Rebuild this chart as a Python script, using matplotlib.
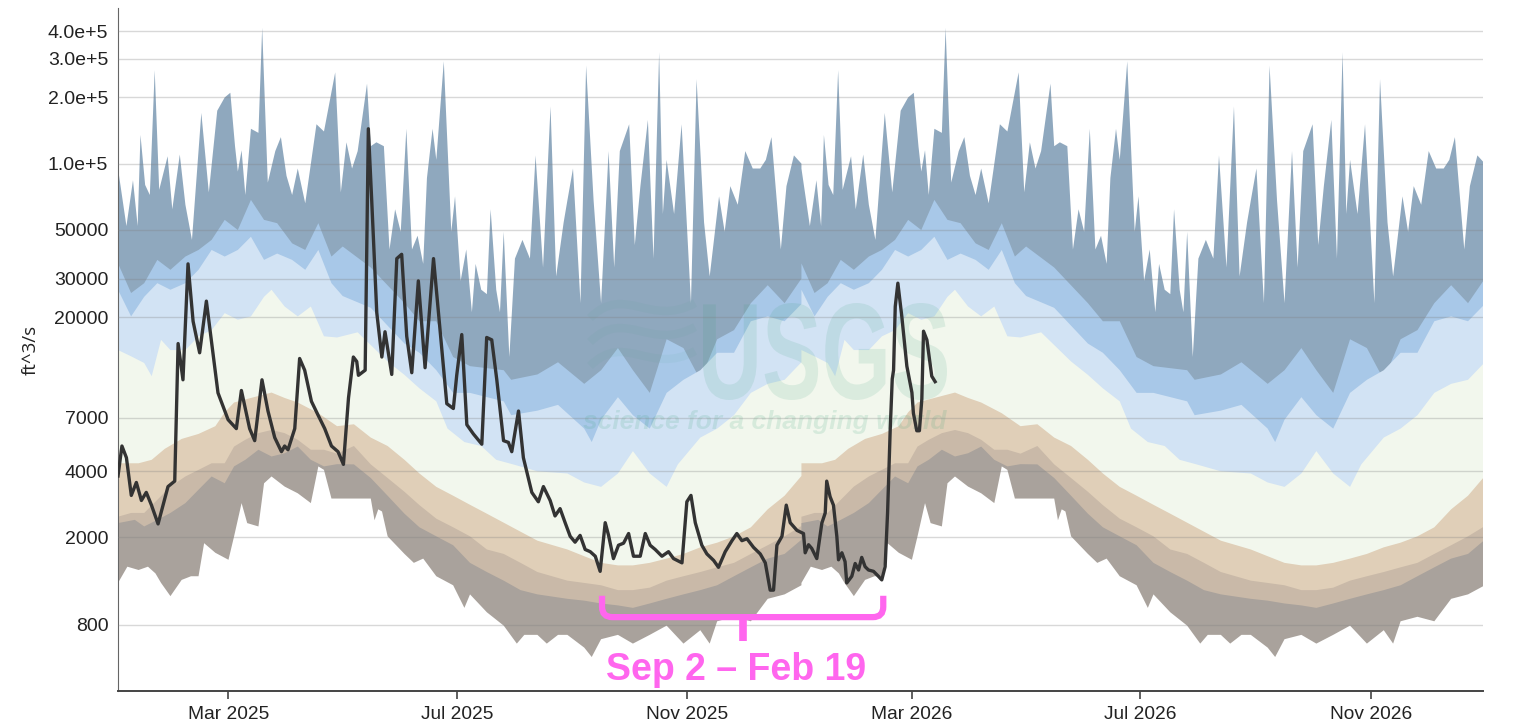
import datetime as dt
import numpy as np
import matplotlib
matplotlib.use("Agg")
import matplotlib.pyplot as plt
import matplotlib.dates as mdates
from matplotlib.ticker import NullLocator
from matplotlib.path import Path
from matplotlib.patches import PathPatch
from matplotlib.textpath import TextPath
from matplotlib.font_manager import FontProperties
from matplotlib.transforms import Affine2D, IdentityTransform

plt.rcParams['font.family'] = ['Liberation Sans', 'DejaVu Sans']

# daily statistics by day of year (values in thousands of ft^3/s)
max_doy = [0, 4.5, 8, 10.5, 12, 14.5, 17, 19.6, 22, 26.5, 29, 33, 36, 39.5, 44.5, 48.5, 53, 57, 60,
           62.5, 64, 66, 68, 71, 75, 77, 80, 84, 87, 90, 93, 96, 100, 106, 110, 116, 119, 122,
           125, 128, 133, 135, 138, 142, 145, 148, 151, 154, 157, 160, 163, 165, 168, 170, 174,
           178, 180, 183, 186, 189, 191, 194, 197, 199, 202, 204, 206, 209, 212, 216, 220, 223,
           227, 231, 234, 238, 240, 243, 247, 250, 254, 258, 262, 265, 268, 273, 276, 279, 283,
           286, 289, 291, 293, 297, 301, 306, 309, 313, 316, 321, 324, 327, 331, 335, 339, 343,
           346, 349, 354, 357, 361, 365]
max_k = [95, 52, 84, 52, 135, 80, 72, 266, 76, 108, 62, 110, 65, 45, 170, 74, 174, 200, 210,
         120, 92, 115, 72, 144, 138, 415, 82, 114, 132, 88, 72, 95, 66, 151, 140, 260, 74, 125,
         95, 114, 231, 120, 125, 120, 40.7, 62, 49, 144, 40.7, 47, 35, 86, 144, 104, 292,
         49, 71, 29.3, 40.7, 21.1, 35, 26.7, 25.5, 62, 26.7, 21.1, 49, 13.2, 37, 45, 37, 109,
         33.7, 182, 30.7, 54, 68, 95, 23.2, 279, 68, 23.2, 114, 33.7, 114, 151, 42.6, 79, 158,
         37, 321, 59, 104, 59, 151, 23.2, 242, 54, 30.7, 71, 49, 79, 65, 114, 95, 95,
         104, 132, 40.7, 79, 109, 100]

p95_doy = [0, 7, 14, 21, 28, 36, 43, 50, 57, 64, 71, 78, 85, 93, 100, 107, 114, 120, 135, 153,
           161, 170, 179, 188, 206, 210, 224, 235, 249, 258, 267, 275, 284, 293, 302, 311, 320,
           329, 338, 347, 356, 365]
p95_k = [35.2, 25.8, 28.6, 36.5, 32.9, 37.8, 40.5, 45, 55.5, 49.9, 68.4, 55.5, 53.6, 43.4, 40.5,
         53.6, 37.8, 42, 33.7, 23.2, 19.2, 19.2, 13.2, 12.0, 11.5, 10.4, 11.0, 12.5, 9.97, 11.5,
         14.5, 11.5, 9.07, 15.9, 14.5, 10.4, 15.9, 17.5, 23.2, 28, 23.2, 30]

p90_doy = [0, 7, 14, 21, 28, 36, 43, 50, 57, 64, 71, 78, 85, 93, 100, 107, 114, 120, 135, 153,
           161, 170, 179, 188, 206, 210, 224, 235, 249, 253, 258, 267, 275, 284, 293, 302, 311,
           320, 329, 338, 347, 356, 365]
p90_k = [26.7, 20.2, 24.8, 28.6, 26.7, 28.6, 32.9, 40.5, 37.8, 40.5, 46.5, 36.5, 39, 36.5, 32.9,
         40.5, 28.6, 25, 22.1, 15.2, 13.8, 11.5, 9.07, 9.07, 8.3, 7.18, 7.53, 8.0, 6.24, 5.42,
         6.85, 8.67, 7.18, 6.24, 9.07, 10.4, 11.5, 13.8, 13.8, 19.2, 20.2, 19.2, 23]

p75_doy = [0, 7, 14, 18, 23, 28, 36, 43, 50, 57, 64, 71, 78, 82, 89, 96, 103, 110, 117, 128,
           144, 153, 161, 170, 176, 185, 194, 202, 211, 224, 240, 249, 258, 267, 275, 284, 293,
           299, 311, 320, 329, 338, 347, 356, 365]
p75_k = [14.2, 13.3, 12.4, 10.8, 15.8, 14.2, 14.2, 16.4, 17.5, 20.9, 19.5, 20.2, 24.8, 26.7, 22.4,
         20.2, 22.4, 16.4, 16.2, 17.1, 12.6, 10.95, 9.51, 8.3, 6.24, 5.42, 5.2, 4.5, 4.29, 3.99,
         3.9, 3.55, 3.39, 3.9, 4.93, 3.9, 3.39, 4.29, 5.68, 6.24, 7.18, 9.07, 9.97, 10.4, 12.5]

p25_doy = [0, 11, 18, 25, 34, 43, 52, 57, 62, 71, 82, 89, 96, 107, 117, 126, 135, 144, 153, 161,
           170, 179, 188, 197, 206, 215, 224, 240, 249, 258, 267, 275, 284, 293, 302, 311, 320,
           329, 338, 347, 356, 365]
p25_k = [4.34, 4.34, 4.5, 5.05, 5.6, 5.9, 6.4, 7.4, 8.2, 8.6, 9.1, 8.6, 8.2, 7.33, 6.4, 6.53,
         5.68, 5.2, 4.5, 3.9, 3.39, 3.09, 2.81, 2.56, 2.33, 2.12, 1.93, 1.76, 1.64, 1.53, 1.49,
         1.49, 1.53, 1.6, 1.68, 1.8, 1.89, 2.02, 2.22, 2.68, 3.09, 3.8]

p10_doy = [0, 7, 14, 21, 28, 36, 43, 50, 57, 62, 68, 75, 82, 89, 96, 103, 110, 117, 126, 135,
           144, 153, 161, 170, 179, 188, 197, 206, 215, 224, 240, 249, 258, 267, 275, 284, 293,
           302, 311, 320, 329, 338, 347, 356, 365]
p10_k = [2.48, 2.58, 2.58, 2.96, 3.4, 3.78, 4.05, 4.34, 4.34, 5.17, 5.55, 5.95, 6.15, 5.95, 5.55,
         5.0, 5.0, 4.8, 5.2, 4.29, 3.72, 3.22, 2.8, 2.43, 2.22, 2.02, 1.76, 1.68, 1.53, 1.39,
         1.27, 1.24, 1.21, 1.15, 1.15, 1.18, 1.27, 1.33, 1.39, 1.46, 1.53, 1.68, 1.84, 2.02, 2.25]

p05_doy = [0, 9, 14, 21, 28, 36, 43, 50, 57, 62, 68, 75, 82, 89, 96, 103, 110, 117, 126, 135,
           144, 153, 161, 170, 179, 188, 197, 206, 215, 224, 240, 249, 258, 267, 275, 284, 293,
           302, 311, 320, 329, 338, 347, 356, 365]
p05_k = [2.32, 2.4, 2.24, 2.4, 2.58, 2.86, 3.29, 3.78, 3.52, 4.2, 4.5, 5.0, 4.66, 4.82, 5.17,
         4.5, 4.2, 4.3, 4.29, 3.72, 3.09, 2.56, 2.22, 2.02, 1.84, 1.53, 1.39, 1.27, 1.15, 1.1,
         1.05, 1.03, 1.0, 0.98, 0.955, 1.0, 1.05, 1.1, 1.15, 1.21, 1.33, 1.46, 1.6, 1.68, 1.95]

min_doy = [0, 5, 11, 16, 20, 23, 28, 34, 39, 43, 46, 52, 59, 62, 66, 69, 75, 78, 82, 89, 96,
           103, 107, 110, 114, 135, 137, 139, 141, 144, 153, 158, 163, 170, 179, 185, 188, 197,
           206, 213, 217, 224, 229, 235, 240, 249, 253, 258, 267, 275, 284, 293, 302, 311, 316,
           320, 329, 338, 347, 356, 365]
min_k = [1.24, 1.47, 1.42, 1.47, 1.37, 1.24, 1.08, 1.28, 1.33, 1.33, 1.88, 1.70, 1.58, 2.02,
         2.86, 2.32, 2.24, 3.52, 3.78, 3.4, 3.17, 2.86, 4.2, 4.05, 3.0, 3.0, 2.39, 2.68, 2.62,
         2.02, 1.68, 1.53, 1.6, 1.33, 1.21, 0.955, 1.1, 0.912, 0.793, 0.657, 0.72, 0.72, 0.657,
         0.72, 0.72, 0.63, 0.571, 0.688, 0.72, 0.657, 0.72, 0.793, 0.657, 0.756, 0.657, 0.83,
         0.87, 0.83, 1.05, 1.1, 1.21]

# observed daily flow, days since 2025-01-01 (thousands of ft^3/s)
obs_day = [0, 2.1, 4.5, 7.1, 9.8, 12.5, 15.1, 17.8, 21.4, 26.7, 28.5, 30.3, 32.1, 34.7, 37.4,
           40.1, 43.6, 47.2, 50.7, 53.4, 58.8, 63.2, 65.9, 70.3, 73.0, 76.9, 80.1, 83.7, 87.3,
           89, 90.8, 94.4, 97.0, 99.7, 103.3, 106.8, 110.4, 114.0, 117.5, 120.4, 123.1, 125.7,
           127.5, 128.4, 132.0, 133.7, 135.5, 138.2, 140.9, 142.6, 146.2, 148.9, 151.5, 154.2,
           156.9, 160.4, 164.0, 168.5, 172.0, 175.6, 179.1, 180.9, 183.6, 186.3, 189.8, 194.3,
           196.9, 199.6, 202.3, 205.9, 208.5, 210.3, 213.9, 216.5, 221.0, 224.5, 227.2, 230.8,
           233.4, 236.1, 238.8, 241.5, 244.1, 246.8, 249.5, 252.2, 254.9, 257.5, 260.2, 262.0,
           264.6, 267.3, 270.0, 272.7, 275.3, 278.9, 281.6, 284.2, 286.9, 290.5, 294.0, 296.7,
           301.2, 303.8, 306.0, 308.3, 311.8, 314.5, 318.1, 320.7, 324.3, 327.9, 330.5, 333.2,
           335.9, 339.4, 343.0, 345.7, 348.3, 350.1, 351.9, 354.6, 356.9, 359.0, 362.6, 366.1,
           367.0, 368.8, 370.5, 373.2, 375.9, 377.7, 378.5, 380.3, 382.1, 383.9, 384.8, 386.6,
           388.3, 389.2, 391.9, 393.7, 395.5, 397.2, 399.0, 400.8, 403.5, 406.1, 407.9, 409.7,
           411.0, 412.4, 413.5, 414.2, 415.1, 416.5, 418.6, 421.3, 424.0, 424.8, 426.6, 428.0,
           429.3, 430.2, 432.0, 434.6, 436.4]
obs_k = [3.8, 5.2, 4.6, 3.1, 3.55, 2.94, 3.2, 2.81, 2.3, 3.4, 3.5, 3.6, 15.2, 10.4, 35,
         19.2, 13.8, 23.7, 13.8, 9.07, 6.85, 6.24, 9.3, 6.24, 5.5, 10.4, 7.5, 5.68, 4.9,
         5.2, 5.0, 6.24, 13, 11.5, 8.3, 7.2, 6.24, 5.2, 4.9, 4.29, 8.6, 13.2,
         12.6, 10.9, 11.5, 144, 68, 21, 13.2, 17.2, 11, 37, 38.7, 16.4,
         11.2, 29.3, 11.8, 37, 17.6, 8.1, 7.7, 10.9, 16.7, 6.5, 5.9, 5.3,
         16.2, 15.8, 10.4, 5.5, 5.4, 4.9, 7.5, 4.6, 3.2, 2.9, 3.4, 2.94,
         2.5, 2.7, 2.33, 2.02, 1.9, 2.04, 1.76, 1.72, 1.64, 1.4, 2.33, 2.04,
         1.6, 1.84, 1.88, 2.08, 1.64, 1.64, 2.08, 1.84, 1.76, 1.64, 1.72, 1.6,
         1.53, 2.9, 3.1, 2.33, 1.84, 1.68, 1.57, 1.46, 1.72, 1.93, 2.08, 1.93,
         1.97, 1.80, 1.68, 1.53, 1.15, 1.15, 1.84, 2.02, 2.8, 2.33, 2.15, 2.08,
         1.70, 1.85, 1.78, 1.6, 2.32, 2.58, 3.6, 3.06, 2.8, 2.02, 1.58, 1.7,
         1.55, 1.24, 1.33, 1.52, 1.42, 1.62, 1.47, 1.42, 1.4, 1.33, 1.28, 1.47,
         2.58, 6.15, 10.5, 11.5, 22.4, 28.6, 20.2, 12, 9.1, 7.33, 6.1, 6.1,
         8.5, 17.3, 15.8, 10.8, 10.2]

yticks = [800, 2000, 4000, 7000, 20000, 30000, 50000, 100000, 200000, 300000, 400000]
ytick_labels = ['800', '2000', '4000', '7000', '20000', '30000', '50000',
                '1.0e+5', '2.0e+5', '3.0e+5', '4.0e+5']

start25 = mdates.date2num(dt.datetime(2025, 1, 1))
start26 = mdates.date2num(dt.datetime(2026, 1, 1))


def two_years(doy, vals):
    doy = np.asarray(doy, float)
    x = np.concatenate([start25 + doy, start26 + doy])
    y = np.concatenate([vals, vals]) * 1000
    return x, y


fig = plt.figure(figsize=(15.26, 7.23), dpi=100)
ax = fig.add_axes([118 / 1526, 1 - 691 / 723, 1365 / 1526, 683 / 723])

# each layer is filled down to the floor, top to bottom
layers = [(max_doy, max_k, '#8fa8be'),
          (p95_doy, p95_k, '#a8c8e8'),
          (p90_doy, p90_k, '#d2e3f4'),
          (p75_doy, p75_k, '#f2f7ed'),
          (p25_doy, p25_k, '#e0cfb8'),
          (p10_doy, p10_k, '#c9b9a8'),
          (p05_doy, p05_k, '#a9a29c'),
          (min_doy, min_k, 'white')]
for doy, vals, col in layers:
    x, y = two_years(doy, vals)
    ax.fill_between(x, 1, y, color=col, lw=0, zorder=1)

# USGS watermark (pixel positions, origin bottom-left)
wm = '#3aa07a'
tp = TextPath((0, 0), "USGS", size=100, prop=FontProperties(family='Liberation Sans', weight='bold'))
bb = tp.get_extents()
trans = Affine2D().translate(-bb.x0, -bb.y0).scale(244 / bb.width, 97 / bb.height).translate(703, 323)
ax.add_artist(PathPatch(tp, transform=trans, facecolor=wm, edgecolor='none', alpha=0.13, zorder=2))
for k in range(3):
    dy = -24 * k
    wave = Path([(590, 405 + dy), (625, 440 + dy), (650, 395 + dy), (695, 420 + dy)],
                [Path.MOVETO, Path.CURVE4, Path.CURVE4, Path.CURVE4])
    ax.add_artist(PathPatch(wave, transform=IdentityTransform(), facecolor='none', edgecolor=wm,
                            lw=6, alpha=0.06, zorder=2))
ax.text(765 / 1526, 1 - 422 / 723, 'science for a changing world', transform=fig.transFigure,
        ha='center', va='center', fontsize=19, fontweight='bold', fontstyle='italic',
        color=wm, alpha=0.15, zorder=2)

ax.plot(start25 + np.array(obs_day), np.array(obs_k) * 1000, color='#333333', lw=2.4,
        solid_joinstyle='round', zorder=4)

ax.set_yscale('log')
ax.set_ylim(400, 510000)
ax.set_xlim(start25, mdates.date2num(dt.datetime(2026, 12, 31)))
ax.set_yticks(yticks)
ax.set_yticklabels(ytick_labels)
ax.yaxis.set_minor_locator(NullLocator())
ax.xaxis.set_major_locator(mdates.MonthLocator(bymonth=[3, 7, 11]))
ax.xaxis.set_major_formatter(mdates.DateFormatter('%b %Y'))
ax.tick_params(axis='y', length=0, pad=7, labelsize=14, labelcolor='#222222')
ax.tick_params(axis='x', length=6, width=1.2, color='#444444', pad=5, labelsize=13.8,
               labelcolor='#222222')
ax.grid(axis='y', color='#808080', alpha=0.3, lw=1)
ax.set_axisbelow(False)
for s in ['top', 'right']:
    ax.spines[s].set_visible(False)
ax.spines['left'].set_color('#666666')
ax.spines['bottom'].set_color('#444444')
ax.spines['bottom'].set_linewidth(1.4)

ax.set_ylabel('ft^3/s', fontsize=13.5, family=['Open Sans', 'DejaVu Sans'], color='#222222')
ax.yaxis.set_label_coords(-0.057, 0.5)

# bracket for the dry spell
pink = '#ff66ee'
x0, x1, xc, r = start25 + 258.5, start25 + 408.7, start25 + 333.6, 5.5
verts = [(x0, 1084), (x0, 967), (x0, 867), (x0 + r, 867), (x1 - r, 867), (x1, 867), (x1, 967), (x1, 1084)]
codes = [Path.MOVETO, Path.LINETO, Path.CURVE3, Path.CURVE3, Path.LINETO, Path.CURVE3, Path.CURVE3, Path.LINETO]
ax.add_patch(PathPatch(Path(verts, codes), facecolor='none', edgecolor=pink, lw=4.5,
                       capstyle='butt', zorder=5, clip_on=False))
ax.plot([xc, xc], [867, 677], color=pink, lw=5.5, solid_capstyle='butt', zorder=5)
ax.text(start25 + 329.9, 499, 'Sep 2 \u2013 Feb 19', ha='center', va='center', fontsize=27,
        fontweight='bold', color=pink, zorder=5)

fig.savefig('out.png', dpi=100)
